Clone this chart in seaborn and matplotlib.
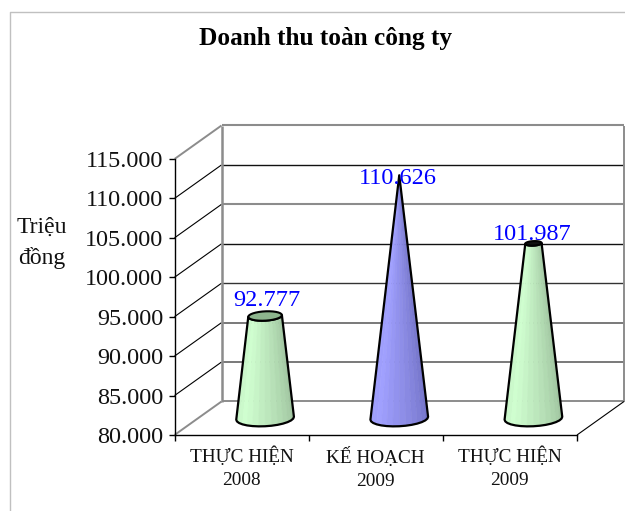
import numpy as np
import pandas as pd
import matplotlib
matplotlib.use("Agg")
import matplotlib.pyplot as plt
from matplotlib.colors import to_rgb
from matplotlib.lines import Line2D
from matplotlib.patches import Polygon
from matplotlib.ticker import FuncFormatter
from matplotlib.transforms import IdentityTransform
import seaborn as sns

# data
categories = ["THỰC HIỆN\n2008", "KẾ HOẠCH\n2009", "THỰC HIỆN\n2009"]
values = [92777, 110626, 101987]
value_labels = ["92.777", "110.626", "101.987"]
y_ticks = [80000, 85000, 90000, 95000, 100000, 105000, 110000, 115000]
title = "Doanh thu toàn công ty"
unit = "Triệu\nđồng"

# styles
left_cols = ["#c4f0c4", "#9c9cf8", "#c4f0c4"]
light_cols = ["#d0ffd0", "#a0a0ff", "#d0ffd0"]
right_cols = ["#9cc09c", "#7070c4", "#9cc09c"]
top_cols = ["#8db58d", "#000000", "#101010"]
label_raise = [28, 9.5, 22]
label_shift = [1.5, -1, -1]
grid_cols = ["#8c8c8c", "#555555", "#555555", "#333333", "#111111", "#8c8c8c", "#111111", "#8c8c8c"]
grid_lw = [1.4, 1.1, 1.1, 1.0, 1.0, 1.5, 1.0, 1.5]

W, H = 625, 511
X0, X1, Y0, Y1 = 174.5, 577, 435, 159  # front plane, px from top left
DX, DY = 47, 33.5  # depth of the box

sns.set_theme(style="white")
plt.rcParams["font.family"] = ["Liberation Serif", "DejaVu Serif"]
plt.rcParams["text.color"] = "black"

fig = plt.figure(figsize=(W / 100, H / 100), dpi=100)
ax = fig.add_axes([X0 / W, 1 - Y0 / H, (X1 - X0) / W, (Y0 - Y1) / H])
ax.patch.set_alpha(0)

df = pd.DataFrame({"cat": categories, "val": values})
sns.barplot(data=df, x="cat", y="val", ax=ax, width=0.43, color="white")
ax.set_xlim(-0.5, 2.5)
ax.set_ylim(y_ticks[0], y_ticks[-1])


def line(xs, ys, color="black", lw=1.0, z=1):
    # pixel coords from the top left of the picture
    ax.plot(xs, [H - y for y in ys], color=color, lw=lw, transform=IdentityTransform(),
            clip_on=False, zorder=z, solid_capstyle="butt", scalex=False, scaley=False)


# back wall, side wall and floor
for v, c, lw in zip(y_ticks, grid_cols, grid_lw):
    y = H - ax.transData.transform((0, v))[1]
    line([X0 + DX, X1 + DX], [y - DY, y - DY], c, lw)
    if v == y_ticks[0] or v == y_ticks[-1]:
        line([X0, X0 + DX], [y, y - DY], "#8c8c8c", 1.4)
    else:
        line([X0, X0 + DX], [y, y - DY], "black", 0.8)
line([X0 + DX, X0 + DX], [Y1 - DY, Y0 - DY], "#8c8c8c", 1.8)
line([X1 + DX, X1 + DX], [Y1 - DY, Y0 - DY], "#8c8c8c", 1.4)
line([X1, X1 + DX], [Y0, Y0 - DY], "black", 0.8)

# the bars become cones, the tip of all of them is at the highest value
tip = max(values)
for i, bar in enumerate(ax.patches):
    val = bar.get_height()
    bar.set_visible(False)
    cx, base = ax.transData.transform((bar.get_x() + bar.get_width() / 2, y_ticks[0]))
    _, top = ax.transData.transform((0, val))
    cx += DX / 2
    base += DY / 2
    top += DY / 2 + 1.5
    a = (ax.transData.transform((bar.get_width(), 0))[0] - ax.transData.transform((0, 0))[0]) / 2
    r = a * (tip - val) / (tip - y_ticks[0])

    def rim(t, cy, rad):
        x = rad * np.cos(t)
        return cx + x, cy + 0.05 * x + rad * 8 / a * np.sin(t)

    ts = np.linspace(np.pi, 2 * np.pi, 15)
    c_l, c_m, c_r = [np.array(to_rgb(c)) for c in (left_cols[i], light_cols[i], right_cols[i])]
    for k in range(len(ts) - 1):
        f = k / (len(ts) - 2)
        col = c_l + (c_m - c_l) * f / 0.25 if f < 0.25 else c_m + (c_r - c_m) * (f - 0.25) / 0.75
        quad = [rim(ts[k], base, a), rim(ts[k + 1], base, a), rim(ts[k + 1], top, r), rim(ts[k], top, r)]
        ax.add_patch(Polygon(quad, closed=True, fc=col, ec=col, lw=0.4,
                             transform=IdentityTransform(), clip_on=False, zorder=3))
    # outline
    outline = [rim(t, base, a) for t in ts] + [rim(t, top, r) for t in ts[::-1]]
    ax.add_patch(Polygon(outline, closed=True, fc="none", ec="black", lw=1.6, joinstyle="round",
                         transform=IdentityTransform(), clip_on=False, zorder=4))
    if r > 0:
        t2 = np.linspace(0, 2 * np.pi, 30)
        ax.add_patch(Polygon([rim(t, top, r) for t in t2], closed=True, fc=top_cols[i], ec="black", lw=1.5,
                             transform=IdentityTransform(), clip_on=False, zorder=5))
    ax.annotate(value_labels[i], xy=(bar.get_x() + bar.get_width() / 2, val),
                xytext=(DX / 2 + label_shift[i], label_raise[i]), textcoords="offset pixels",
                ha="center", va="baseline", color="#0000ff", fontsize=17.5, annotation_clip=False, zorder=6)

# axes
sns.despine(ax=ax, top=True, right=True)
for s in ("left", "bottom"):
    ax.spines[s].set_color("black")
    ax.spines[s].set_linewidth(1.0)
    ax.spines[s].set_zorder(2)
ax.set_xlabel("")
ax.set_ylabel("")
ax.set_yticks(y_ticks)
ax.yaxis.set_major_formatter(FuncFormatter(lambda v, p: f"{int(v):,}".replace(",", ".")))
ax.tick_params(axis="y", left=True, length=4.5, width=1.0, color="black", pad=3.5, labelsize=17.4, labelcolor="#111111")
ax.set_xticks(np.arange(len(categories)))
ax.set_xticklabels(categories, linespacing=1.47)
ax.set_xticks(np.arange(len(categories) + 1) - 0.5, minor=True)
ax.tick_params(axis="x", which="major", bottom=False, pad=2.5, labelsize=13.9, labelcolor="#111111")
ax.tick_params(axis="x", which="minor", bottom=True, length=4, width=1.0, color="black")

fig.text(326 / W, 1 - 38 / H, title, ha="center", va="center", fontsize=18.2, fontweight="bold")
fig.text(42 / W, 1 - 243 / H, unit, ha="center", va="center", fontsize=17, linespacing=1.5, color="#111111")

# chart frame
fig.add_artist(Line2D([9.5 / W, 9.5 / W, 1], [0, 1 - 12.5 / H, 1 - 12.5 / H], color="#c0c0c0", lw=1.0))

fig.savefig("out.png", dpi=100, facecolor="white")
